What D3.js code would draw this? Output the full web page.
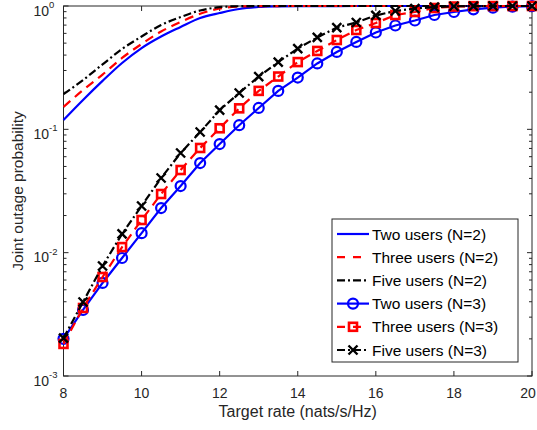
<!DOCTYPE html>
<html>
<head>
<meta charset="utf-8">
<script src="https://cdn.jsdelivr.net/npm/d3@7"></script>
<style>
  html, body { margin: 0; padding: 0; background: #fff; }
  svg { display: block; font-family: "Liberation Sans", Arial, Helvetica, sans-serif; }
</style>
</head>
<body>
<svg id="chart" width="537" height="430"></svg>
<script>
// Smooth curves (N=2): target rate vs. joint outage probability
const rateN2 = [8, 8.5, 9, 9.5, 10, 10.5, 11, 11.5, 12, 12.5, 13, 13.5, 14, 15, 16, 18, 20];
const twoUsersN2   = [0.119, 0.173, 0.247, 0.345, 0.456, 0.566, 0.676, 0.800, 0.877, 0.946, 0.981, 0.993, 0.998, 0.9995, 1, 1, 1];
const threeUsersN2 = [0.152, 0.208, 0.278, 0.379, 0.492, 0.621, 0.742, 0.865, 0.955, 0.988, 0.998, 0.9995, 1, 1, 1, 1, 1];
const fiveUsersN2  = [0.193, 0.251, 0.336, 0.448, 0.566, 0.701, 0.814, 0.920, 0.978, 0.996, 0.9995, 1, 1, 1, 1, 1, 1];

// Marked curves (N=3), sampled every 0.5 nats/s/Hz
const rateN3 = [8, 8.5, 9, 9.5, 10, 10.5, 11, 11.5, 12, 12.5, 13, 13.5, 14, 14.5, 15, 15.5, 16, 16.5, 17, 17.5, 18, 18.5, 19, 19.5, 20];
const twoUsersN3   = [0.00200, 0.00343, 0.00568, 0.00905, 0.0144, 0.0230, 0.0347, 0.0533, 0.0760, 0.108, 0.149, 0.205, 0.263, 0.342, 0.424, 0.511, 0.610, 0.695, 0.763, 0.845, 0.894, 0.940, 0.970, 0.988, 0.996];
const threeUsersN3 = [0.00182, 0.00356, 0.00635, 0.0111, 0.0184, 0.0299, 0.0468, 0.0706, 0.102, 0.148, 0.205, 0.268, 0.351, 0.432, 0.530, 0.639, 0.728, 0.845, 0.894, 0.963, 0.990, 0.997, 0.999, 1, 1];
const fiveUsersN3  = [0.00203, 0.00398, 0.00780, 0.0142, 0.0239, 0.0403, 0.0643, 0.0951, 0.143, 0.197, 0.268, 0.351, 0.452, 0.556, 0.669, 0.735, 0.838, 0.911, 0.954, 0.980, 0.995, 0.999, 1, 1, 1];

const xTicks = [8, 10, 12, 14, 16, 18, 20];
const yTickExponents = [-3, -2, -1, 0];
const legendLabels = ["Two users (N=2)", "Three users (N=2)", "Five users (N=2)",
                      "Two users (N=3)", "Three users (N=3)", "Five users (N=3)"];

const svg = d3.select("#chart");
const margin = { left: 63.5, right: 5, top: 6, bottom: 54 };
const W = 537, H = 430;
const axisColor = "#262626";

const x = d3.scaleLinear().domain([8, 20]).range([margin.left, W - margin.right]);
const y = d3.scaleLog().domain([1e-3, 1]).range([H - margin.bottom, margin.top]);

const series = [
  { xs: rateN2, ys: twoUsersN2,   color: "#0000ff", dash: null,       marker: null },
  { xs: rateN2, ys: threeUsersN2, color: "#ff0000", dash: "9,6",      marker: null },
  { xs: rateN2, ys: fiveUsersN2,  color: "#000000", dash: "8,3,2,3",  marker: null },
  { xs: rateN3, ys: twoUsersN3,   color: "#0000ff", dash: null,       marker: "circle" },
  { xs: rateN3, ys: threeUsersN3, color: "#ff0000", dash: "9,6",      marker: "square" },
  { xs: rateN3, ys: fiveUsersN3,  color: "#000000", dash: "8,3,2,3",  marker: "cross" }
];

const clipId = "plotClip";
svg.append("defs").append("clipPath").attr("id", clipId)
  .append("rect")
  .attr("x", margin.left - 8).attr("y", margin.top - 8)
  .attr("width", W - margin.left - margin.right + 16)
  .attr("height", H - margin.top - margin.bottom + 16);

// Axes box and ticks
const g = svg.append("g");
const x0 = x.range()[0], x1 = x.range()[1];
const y0 = y.range()[0], y1 = y.range()[1];
const majorLen = 5, minorLen = 3;

g.append("rect").attr("x", x0).attr("y", y1).attr("width", x1 - x0).attr("height", y0 - y1)
  .attr("fill", "none").attr("stroke", axisColor).attr("stroke-width", 1);

// x ticks (bottom and top, inward); the last label is kept inside the canvas
xTicks.forEach(t => {
  const px = x(t);
  g.append("line").attr("x1", px).attr("x2", px).attr("y1", y0).attr("y2", y0 - majorLen)
    .attr("stroke", axisColor);
  g.append("line").attr("x1", px).attr("x2", px).attr("y1", y1).attr("y2", y1 + majorLen)
    .attr("stroke", axisColor);
  const lbl = g.append("text").attr("x", px).attr("y", y0 + 22)
    .attr("text-anchor", "middle").attr("font-size", 14).attr("fill", axisColor)
    .text(t);
  const bb = lbl.node().getBBox();
  if (bb.x + bb.width > W - 1) lbl.attr("x", px - (bb.x + bb.width - (W - 1)));
});

// y ticks: decades and minor log ticks on both sides
yTickExponents.forEach(e => {
  const v = Math.pow(10, e);
  const py = y(v);
  g.append("line").attr("x1", x0).attr("x2", x0 + majorLen).attr("y1", py).attr("y2", py).attr("stroke", axisColor);
  g.append("line").attr("x1", x1).attr("x2", x1 - majorLen).attr("y1", py).attr("y2", py).attr("stroke", axisColor);
  const lab = g.append("text").attr("x", x0 - 30).attr("y", py + 9.5)
    .attr("text-anchor", "start").attr("font-size", 14).attr("fill", axisColor);
  lab.append("tspan").text("10");
  lab.append("tspan").attr("dy", -7.5).attr("font-size", 9.5).text(e === 0 ? "0" : "-" + Math.abs(e));
  if (e < 0) {
    for (let m = 2; m <= 9; m++) {
      const pm = y(m * v);
      g.append("line").attr("x1", x0).attr("x2", x0 + minorLen).attr("y1", pm).attr("y2", pm).attr("stroke", axisColor);
      g.append("line").attr("x1", x1).attr("x2", x1 - minorLen).attr("y1", pm).attr("y2", pm).attr("stroke", axisColor);
    }
  }
});

// Axis titles
svg.append("text").attr("x", (x0 + x1) / 2).attr("y", 417)
  .attr("text-anchor", "middle").attr("font-size", 16).attr("fill", axisColor)
  .text("Target rate (nats/s/Hz)");
svg.append("text")
  .attr("transform", `translate(23,${(y0 + y1) / 2}) rotate(-90)`)
  .attr("text-anchor", "middle").attr("font-size", 15.5).attr("fill", axisColor)
  .text("Joint outage probability");

// Curves
const plot = svg.append("g").attr("clip-path", `url(#${clipId})`);
function drawMarker(sel, type, color, cx, cy) {
  if (type === "circle") {
    sel.append("circle").attr("cx", cx).attr("cy", cy).attr("r", 5)
      .attr("fill", "none").attr("stroke", color).attr("stroke-width", 2.2);
  } else if (type === "square") {
    sel.append("rect").attr("x", cx - 4).attr("y", cy - 4).attr("width", 8).attr("height", 8)
      .attr("fill", "none").attr("stroke", color).attr("stroke-width", 2.6);
  } else if (type === "cross") {
    const s = 4.5;
    sel.append("path").attr("d", `M${cx - s},${cy - s}L${cx + s},${cy + s}M${cx - s},${cy + s}L${cx + s},${cy - s}`)
      .attr("stroke", color).attr("stroke-width", 2.4).attr("fill", "none");
  }
}

series.forEach(s => {
  const pts = s.xs.map((xv, i) => [xv, s.ys[i]]);
  const line = d3.line()
    .x(d => x(d[0])).y(d => y(d[1]))
    .curve(s.marker ? d3.curveLinear : d3.curveMonotoneX);
  plot.append("path").datum(pts).attr("d", line)
    .attr("fill", "none").attr("stroke", s.color).attr("stroke-width", 2.2)
    .attr("stroke-dasharray", s.dash);
  if (s.marker) {
    pts.forEach(p => drawMarker(plot, s.marker, s.color, x(p[0]), y(p[1])));
  }
});

// Legend
const lg = svg.append("g");
const lx = 332, ly = 219, lw = 186, lh = 143;
lg.append("rect").attr("x", lx).attr("y", ly).attr("width", lw).attr("height", lh)
  .attr("fill", "#fff").attr("stroke", axisColor).attr("stroke-width", 1);
legendLabels.forEach((label, i) => {
  const s = series[i];
  const ry = 234 + i * 23.2;
  lg.append("line").attr("x1", 337).attr("x2", 369).attr("y1", ry).attr("y2", ry)
    .attr("stroke", s.color).attr("stroke-width", 2.2)
    .attr("stroke-dasharray", s.dash === "9,6" ? "8,8" : s.dash);
  if (s.marker) drawMarker(lg, s.marker, s.color, 353, ry);
  lg.append("text").attr("x", 372).attr("y", ry + 5.5)
    .attr("font-size", 15.5).attr("fill", "#000").text(label);
});
</script>
</body>
</html>
